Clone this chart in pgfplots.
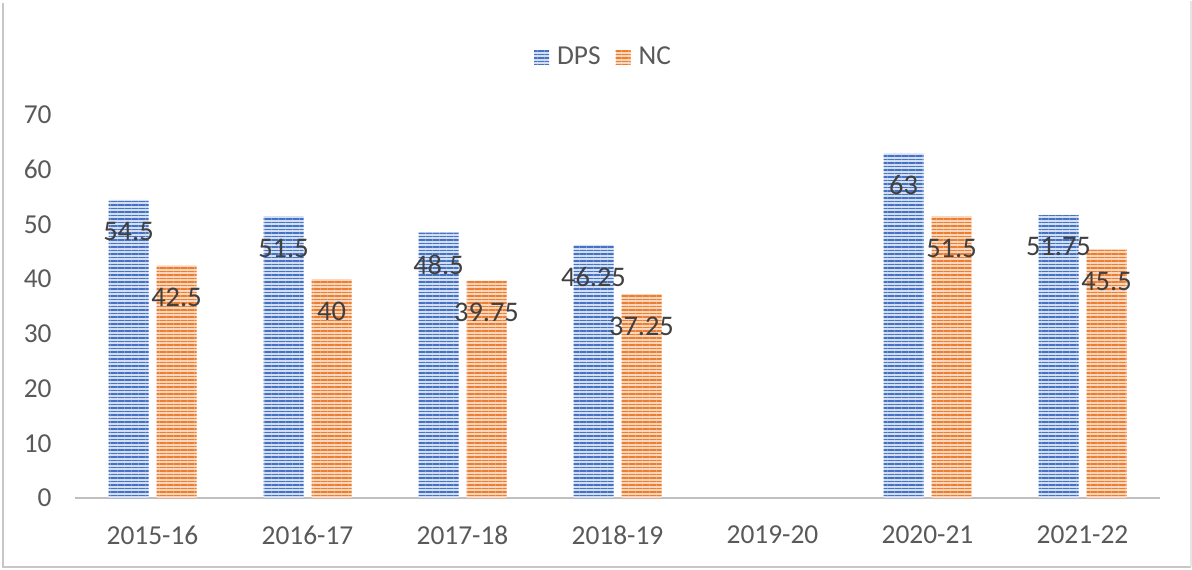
\documentclass[border=0pt]{standalone}
\usepackage{fontspec}
\setmainfont{Carlito}
\usepackage{pgfplots}
\pgfplotsset{compat=1.18}
\usetikzlibrary{patterns.meta}
\definecolor{dpsblue}{HTML}{4472C4}
\definecolor{dpslight}{HTML}{D3DEF3}
\definecolor{ncorange}{HTML}{ED7D31}
\definecolor{nclight}{HTML}{FAD6BC}
\definecolor{ticktext}{HTML}{595959}
\definecolor{labeltext}{HTML}{404040}
\definecolor{axisgray}{HTML}{BFBFBF}
\begin{document}
\begin{tikzpicture}
\path[use as bounding box] (0,0) rectangle (596pt,284.5pt);
\begin{axis}[
  at={(37.5pt,35.5pt)}, anchor=south west,
  scale only axis,
  width=542.5pt, height=191.5pt,
  xmin=-0.5, xmax=6.5,
  ymin=0, ymax=70,
  ytick={0,10,...,70},
  xtick={0,1,2,3,4,5,6},
  xticklabels={2015-16,2016-17,2017-18,2018-19,2019-20,2020-21,2021-22},
  axis lines*=left,
  y axis line style={draw=none},
  x axis line style={draw=axisgray, line width=1.3pt, -},
  tick style={draw=none},
  major tick length=0pt,
  /pgf/number format/assume math mode=true,
  ticklabel style={font=\fontsize{13.7pt}{16pt}\selectfont, text=ticktext},
  yticklabel style={anchor=east, inner sep=0pt, xshift=-11.5pt},
  xticklabel style={anchor=center, inner sep=0pt, yshift=-18.5pt},
  ybar, bar width=20pt,
  nodes near coords,
  every node near coord/.append style={font=\fontsize{14.2pt}{16pt}\selectfont, text=labeltext, anchor=center, yshift=-16pt, inner sep=0pt},
  legend columns=2,
  legend style={draw=none, fill=none, at={(axis description cs:0.488,1.151)}, anchor=center,
    font=\fontsize{13.7pt}{16pt}\selectfont, text=ticktext,
    /tikz/every even column/.append style={column sep=5.5pt}},
  legend image code/.code={\path[#1, draw=none] (0pt,-3.6pt) rectangle (7.5pt,3.6pt); \path (9.5pt,0pt);},
]
\addplot[bar shift=-12pt, draw=none, fill=dpslight,
  postaction={pattern={Lines[angle=0,distance=1.75pt,line width=0.85pt]}, pattern color=dpsblue}]
  coordinates {(0,54.5) (1,51.5) (2,48.5) (3,46.25) (5,63) (6,51.75)};
\addplot[bar shift=12pt, draw=none, fill=nclight,
  postaction={pattern={Lines[angle=0,distance=1.75pt,line width=0.85pt]}, pattern color=ncorange}]
  coordinates {(0,42.5) (1,40) (2,39.75) (3,37.25) (5,51.5) (6,45.5)};
\legend{DPS,NC}
\end{axis}
\draw[color=black!22, line width=1pt] (1.25pt,283pt) -- (1.25pt,1pt) -- (595.5pt,1pt);
\draw[color=black!10, line width=0.6pt] (595.5pt,1pt) -- (595.5pt,284pt);
\end{tikzpicture}
\end{document}
